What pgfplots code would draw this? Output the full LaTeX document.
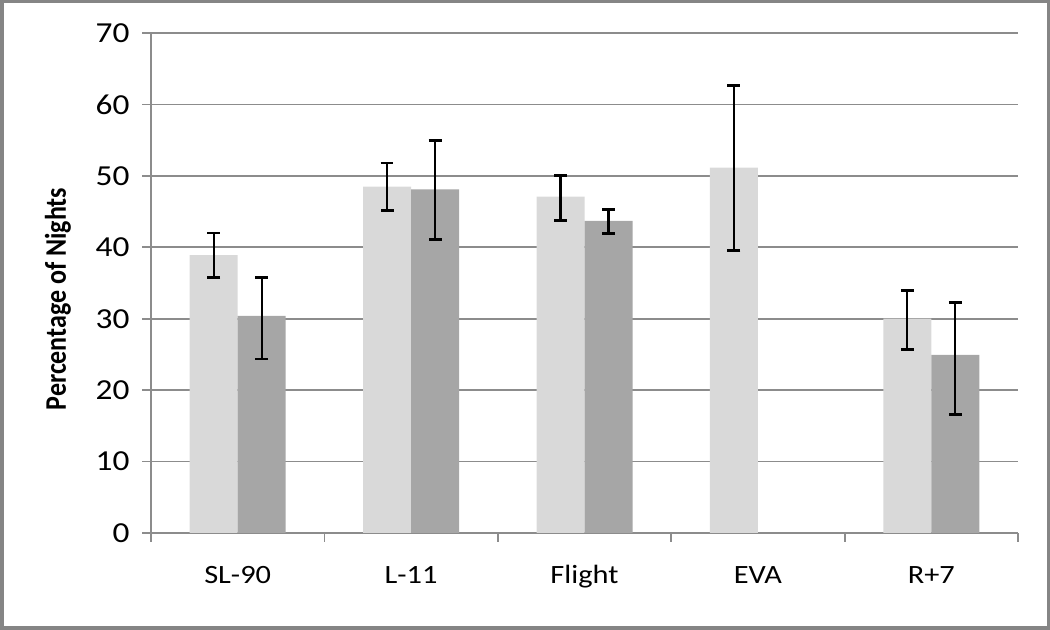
\documentclass[border=0pt]{standalone}
\usepackage{fontspec}
\setmainfont{Carlito}[FakeStretch=1.15]
\usepackage{pgfplots}
\pgfplotsset{compat=1.18}
\definecolor{barlight}{HTML}{D9D9D9}
\definecolor{bardark}{HTML}{A6A6A6}
\definecolor{gridc}{HTML}{8C8C8C}
\definecolor{framec}{HTML}{858585}
\begin{document}
\begin{tikzpicture}
\draw[framec, line width=1.75pt] (0.875pt,0.875pt) rectangle (524.125pt,314.125pt);
\begin{axis}[
  at={(75.5pt,48.5pt)}, anchor=south west,
  scale only axis, width=433.5pt, height=250pt,
  ymin=0, ymax=70, ytick={0,10,...,70},
  xmin=-0.5, xmax=4.5,
  xtick={0,1,2,3,4}, xticklabels={SL-90,L-11,Flight,EVA,R+7},
  minor xtick={-0.5,0.5,1.5,2.5,3.5,4.5},
  every major x tick/.append style={draw=none},
  tick align=outside, major tick length=4.5pt, minor tick length=4.5pt,
  xtick pos=bottom, ytick pos=left,
  tick style={gridc, line width=0.9pt},
  axis x line*=bottom, axis y line*=left,
  axis line style={-, gridc, line width=0.9pt},
  ymajorgrids, grid style={gridc, line width=0.9pt},
  /pgf/number format/assume math mode=true,
  yticklabel style={font=\fontsize{14.5}{16}\selectfont, xshift=-2.7pt},
  xticklabel style={font=\fontsize{13.2}{15}\selectfont, anchor=base, yshift=-21pt},
  ylabel={\scalebox{1}[1.15]{\bfseries Percentage of Nights}},
  every axis y label/.style={at={(axis description cs:-0.1073,0.468)}, rotate=90, anchor=center, font=\fontspec{Carlito}\fontsize{13}{14}\selectfont},
  ybar=0pt, bar width=24pt,
  clip=false,
]
\addplot[fill=barlight, draw=none,
  error bars/.cd, y dir=both, y explicit,
  error bar style={black, line width=1.15pt},
  error mark options={rotate=90, black, mark size=3.2pt, line width=1.4pt}]
  coordinates {(0,38.9) += (0,3.1) -= (0,3.15)
               (1,48.5) += (0,3.3) -= (0,3.4)
               (2,47.1) += (0,3.0) -= (0,3.3)
               (3,51.15) += (0,11.45) -= (0,11.55)
               (4,30.0) += (0,4.0) -= (0,4.3)};
\addplot[fill=bardark, draw=none,
  error bars/.cd, y dir=both, y explicit,
  error bar style={black, line width=1.15pt},
  error mark options={rotate=90, black, mark size=3.2pt, line width=1.4pt}]
  coordinates {(0,30.4) += (0,5.35) -= (0,6.05)
               (1,48.1) += (0,6.9) -= (0,7.0)
               (2,43.7) += (0,1.6) -= (0,1.8)
               (4,24.95) += (0,7.35) -= (0,8.4)};
\end{axis}
\end{tikzpicture}
\end{document}
